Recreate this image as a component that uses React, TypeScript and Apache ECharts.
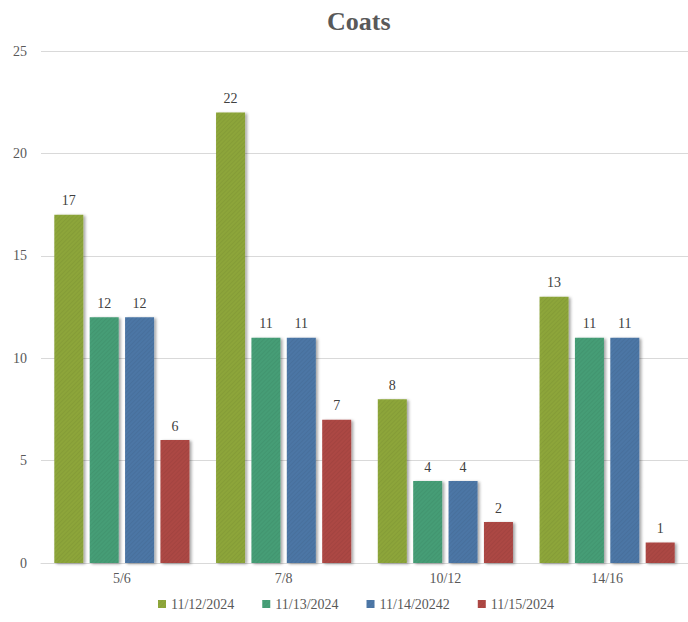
import React, { useEffect, useRef } from "react";
import * as echarts from "echarts";

const categories = ["5/6", "7/8", "10/12", "14/16"];
const seriesNames = ["11/12/2024", "11/13/2024", "11/14/20242", "11/15/2024"];
const values1112 = [17, 22, 8, 13];
const values1113 = [12, 11, 4, 11];
const values1114 = [12, 11, 4, 11];
const values1115 = [6, 7, 2, 1];
const yTicks = [0, 5, 10, 15, 20, 25];

const colors = ["#8FA83B", "#46A078", "#4D78A8", "#AF4844"];
const FONT = "'Liberation Serif', 'DejaVu Serif', serif";

export default function App() {
  const ref = useRef<HTMLDivElement>(null);

  useEffect(() => {
    if (!ref.current) return;
    const chart = echarts.init(ref.current, undefined, { renderer: "svg" });
    const allValues = [values1112, values1113, values1114, values1115];
    chart.setOption({
      animation: false,
      backgroundColor: "#ffffff",
      textStyle: { fontFamily: FONT },
      title: {
        text: "Coats",
        left: 322,
        top: 3,
        textStyle: { fontFamily: FONT, fontSize: 26, fontWeight: "bold", color: "#595959" },
      },
      legend: {
        data: seriesNames,
        bottom: 6,
        left: 153,
        itemWidth: 8,
        itemHeight: 8,
        itemGap: 28,
        icon: "rect",
        textStyle: { fontFamily: FONT, fontSize: 14, color: "#595959" },
      },
      grid: { left: 41, right: 0, top: 51, bottom: 59, containLabel: false },
      xAxis: {
        type: "category",
        data: categories,
        axisLine: { lineStyle: { color: "#d9d9d9" } },
        axisTick: { show: false },
        axisLabel: { fontFamily: FONT, fontSize: 14, color: "#595959", margin: 8 },
      },
      yAxis: {
        type: "value",
        min: yTicks[0],
        max: yTicks[yTicks.length - 1],
        interval: 5,
        axisLine: { show: false },
        axisTick: { show: false },
        splitLine: { lineStyle: { color: "#d9d9d9" } },
        axisLabel: { fontFamily: FONT, fontSize: 14, color: "#595959", margin: 14 },
      },
      series: seriesNames.map((name, i) => ({
        name,
        type: "bar",
        data: allValues[i],
        barWidth: 29,
        barGap: "22%",
        itemStyle: {
          color: colors[i],
          shadowColor: "rgba(0,0,0,0.35)",
          shadowBlur: 3,
          shadowOffsetX: 2,
          shadowOffsetY: 1,
          decal: {
            symbol: "rect",
            color: "rgba(0,0,0,0.05)",
            dashArrayX: [1, 0],
            dashArrayY: [1, 2],
            rotation: -Math.PI / 4,
          },
        },
        label: {
          show: true,
          position: "top",
          distance: 7,
          fontFamily: FONT,
          fontSize: 14,
          color: "#404040",
        },
      })),
    });
    return () => chart.dispose();
  }, []);

  return (
    <div
      ref={ref}
      style={{ position: "fixed", left: 0, top: 0, width: 688, height: 622 }}
    />
  );
}
